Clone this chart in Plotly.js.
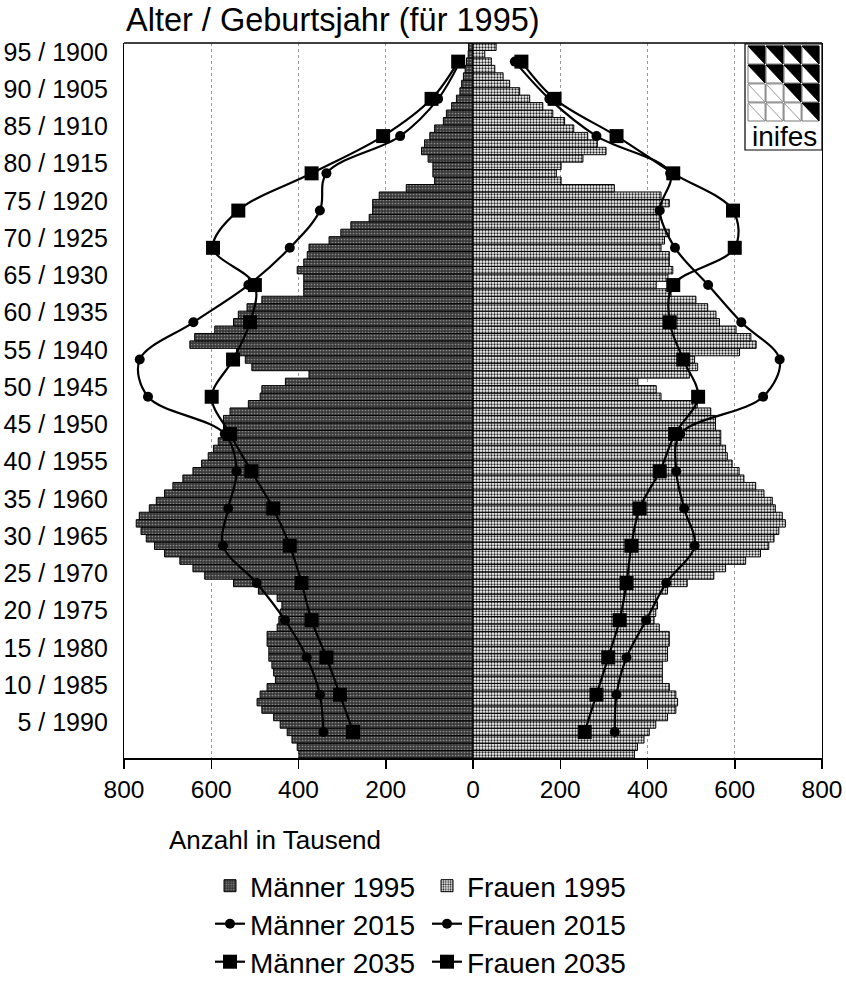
<!DOCTYPE html>
<html>
<head>
<meta charset="utf-8">
<script src="https://cdn.plot.ly/plotly-3.0.1.min.js"></script>
<style>html,body{margin:0;padding:0;background:#fff;}#chart{width:846px;height:1006px;}</style>
</head>
<body>
<div id="chart"></div>
<script>
// Age categories (0 .. 95)
const ages = [0,1,2,3,4,5,6,7,8,9,10,11,12,13,14,15,16,17,18,19,20,21,22,23,24,25,26,27,28,29,30,31,32,33,34,35,36,37,38,39,40,41,42,43,44,45,46,47,48,49,50,51,52,53,54,55,56,57,58,59,60,61,62,63,64,65,66,67,68,69,70,71,72,73,74,75,76,77,78,79,80,81,82,83,84,85,86,87,88,89,90,91,92,93,94,95];

// Population 1995 in thousands, by age 0..95
const maenner1995 = [399,403,415,426,442,457,484,495,488,472,453,457,461,468,468,472,472,449,445,442,438,449,492,549,615,642,672,707,730,749,761,772,765,742,726,707,688,665,642,622,607,595,584,576,572,572,557,515,488,484,430,376,507,522,542,649,638,592,549,538,518,484,388,388,388,403,388,380,376,330,303,280,238,230,230,215,153,88,92,92,103,118,111,99,88,68,61,49,38,30,26,22,18,15,11,10];
const frauen1995 = [370,377,392,404,419,446,465,469,465,450,434,434,434,446,446,450,450,427,415,419,423,419,446,491,552,579,625,659,678,690,701,716,709,693,686,667,648,621,610,594,583,579,568,568,556,556,545,514,431,420,378,496,515,508,611,649,637,603,565,557,538,511,454,420,447,458,450,450,431,439,450,427,427,420,450,431,324,202,191,202,252,305,285,263,231,210,183,160,130,107,84,69,50,42,27,53];

// Projections (points every 5 years)
const projAges = [3,8,13,18,23,28,33,38,43,48,53,58,63,68,73,78,83,88,93];
const maenner2015 = [343,351,381,431,496,573,561,542,569,745,764,641,515,420,351,336,167,80,30];
const frauen2015  = [325,329,352,397,443,508,484,466,475,665,703,615,539,463,428,452,283,175,96];
const maenner2035 = [275,305,336,370,393,420,458,508,557,599,550,511,500,596,538,370,206,95,34];
const frauen2035  = [256,283,310,336,352,363,382,428,463,516,482,451,459,600,596,459,329,187,111];

// Axis labels
const yTickAges = [5,10,15,20,25,30,35,40,45,50,55,60,65,70,75,80,85,90,95];
const yTickText = ['5 / 1990','10 / 1985','15 / 1980','20 / 1975','25 / 1970','30 / 1965','35 / 1960','40 / 1955','45 / 1950','50 / 1945','55 / 1940','60 / 1935','65 / 1930','70 / 1925','75 / 1920','80 / 1915','85 / 1910','90 / 1905','95 / 1900'];
const xTickVals = [-800,-600,-400,-200,0,200,400,600,800];
const xTickText = ['800','600','400','200','0','200','400','600','800'];

const FONT = 'Liberation Sans, Arial, sans-serif';
const neg = a => a.map(v => -v);

const traces = [
  {
    type:'bar', orientation:'h', name:'Männer 1995', legend:'legend',
    y: ages, x: neg(maenner1995),
    marker:{color:'#3a3a3a', line:{color:'#000', width:1},
      pattern:{shape:'.', fgcolor:'#8a8a8a', bgcolor:'#3a3a3a', size:3, solidity:0.25, fillmode:'replace'}},
    hoverinfo:'skip'
  },
  {
    type:'bar', orientation:'h', name:'Frauen 1995', legend:'legend',
    y: ages, x: frauen1995,
    marker:{color:'#ffffff', line:{color:'#000', width:1},
      pattern:{shape:'.', fgcolor:'#222', bgcolor:'#ffffff', size:3, solidity:0.45, fillmode:'replace'}},
    hoverinfo:'skip'
  },
  {
    type:'scatter', mode:'lines+markers', name:'Männer 2015', legend:'legend2',
    y: projAges, x: neg(maenner2015),
    line:{color:'#000', width:2.2, shape:'spline', smoothing:1},
    marker:{symbol:'circle', size:10, color:'#000'},
    hoverinfo:'skip'
  },
  {
    type:'scatter', mode:'lines+markers', name:'Frauen 2015', legend:'legend2',
    y: projAges, x: frauen2015,
    line:{color:'#000', width:2.2, shape:'spline', smoothing:1},
    marker:{symbol:'circle', size:10, color:'#000'},
    hoverinfo:'skip'
  },
  {
    type:'scatter', mode:'lines+markers', name:'Männer 2035', legend:'legend3',
    y: projAges, x: neg(maenner2035),
    line:{color:'#000', width:2.2, shape:'spline', smoothing:1},
    marker:{symbol:'square', size:14, color:'#000'},
    hoverinfo:'skip'
  },
  {
    type:'scatter', mode:'lines+markers', name:'Frauen 2035', legend:'legend3',
    y: projAges, x: frauen2035,
    line:{color:'#000', width:2.2, shape:'spline', smoothing:1},
    marker:{symbol:'square', size:14, color:'#000'},
    hoverinfo:'skip'
  }
];

// Logo (inifes) drawn as decoration in paper coordinates
const PW = 698, PH = 715, PL = 124, PT = 43;
const px = v => (v - PL) / PW;
const py = v => (PT + PH - v) / PH;
const shapes = [
  {type:'line', xref:'paper', yref:'paper', x0:0, x1:1, y0:1, y1:1, line:{color:'#000', width:1.5}},
  {type:'rect', xref:'paper', yref:'paper', x0:px(745), x1:px(822), y0:py(44), y1:py(150), line:{color:'#000', width:1.2}, fillcolor:'#fff', layer:'above'}
];
const gx0 = 748, gy0 = 46, cw = 18, ch = 19;
for (let r = 0; r < 4; r++) {
  for (let c = 0; c < 4; c++) {
    const x0 = gx0 + c*cw, x1 = x0 + cw - 1, y0 = gy0 + r*ch, y1 = y0 + ch - 1;
    shapes.push({type:'rect', xref:'paper', yref:'paper', x0:px(x0), x1:px(x1), y0:py(y0), y1:py(y1), line:{color:'#777', width:1}, fillcolor:'#fff', layer:'above'});
    const dark = (r <= 1) || (c >= r);
    shapes.push({type:'path', xref:'paper', yref:'paper', layer:'above',
      path:`M ${px(x0)} ${py(y0)} L ${px(x1)} ${py(y0)} L ${px(x1)} ${py(y1)} Z`,
      fillcolor: dark ? '#000' : '#fff', line:{color: dark ? '#000' : '#999', width:1}});
  }
}

const legendBase = {orientation:'h', x:px(210), xanchor:'left', yanchor:'middle',
  font:{family:FONT, size:28, color:'#000'}, entrywidth:172, entrywidthmode:'pixels',
  itemwidth:30, bgcolor:'rgba(0,0,0,0)', traceorder:'normal'};

const layout = {
  width:846, height:1006,
  margin:{l:124, r:24, t:43, b:248, autoexpand:false},
  paper_bgcolor:'#fff', plot_bgcolor:'#fff',
  font:{family:FONT, color:'#000', size:24},
  barmode:'overlay', bargap:0,
  showlegend:true,
  title:{text:'Alter / Geburtsjahr (für 1995)', font:{family:FONT, size:32.5, color:'#000'},
    xref:'container', yref:'container', x:126/846, xanchor:'left', y:1-20/1006, yanchor:'middle'},
  xaxis:{
    range:[-800, 800], tickvals:xTickVals, ticktext:xTickText, automargin:false,
    showgrid:true, gridcolor:'#999', griddash:'dot', gridwidth:1,
    zeroline:false, showline:true, linecolor:'#000', linewidth:2,
    ticks:'outside', ticklen:9, tickwidth:1.5, tickcolor:'#000',
    tickfont:{family:FONT, size:24.5, color:'#000'}, fixedrange:true
  },
  yaxis:{
    range:[-0.5, 95.5], tickvals:yTickAges.map(a => a - 0.7), ticktext:yTickText, automargin:false,
    showgrid:false, zeroline:false, showline:true, mirror:true, linecolor:'#000', linewidth:1.2,
    ticks:'', ticklabelstandoff:10,
    tickfont:{family:FONT, size:25, color:'#000'}, fixedrange:true
  },
  legend: Object.assign({}, legendBase, {y:py(886)}),
  legend2: Object.assign({}, legendBase, {y:py(924)}),
  legend3: Object.assign({}, legendBase, {y:py(962)}),
  annotations:[
    {text:'Anzahl in Tausend', xref:'paper', yref:'paper', x:px(167), xanchor:'left', y:py(840), yanchor:'middle',
      showarrow:false, font:{family:FONT, size:26, color:'#000'}},
    {text:'inifes', xref:'paper', yref:'paper', x:px(784), xanchor:'center', y:py(136), yanchor:'middle',
      showarrow:false, font:{family:'Liberation Sans Narrow, Liberation Sans, Arial', size:28, color:'#000'}}
  ],
  shapes: shapes
};

Plotly.newPlot('chart', traces, layout, {staticPlot:true, displayModeBar:false});
</script>
</body>
</html>
